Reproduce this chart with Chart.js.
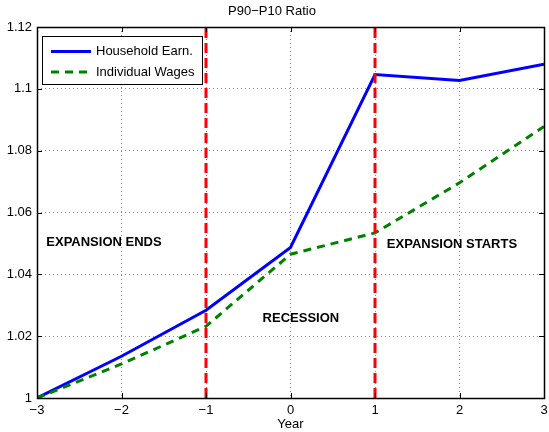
<!DOCTYPE html>
<html>
<head>
<meta charset="utf-8">
<script src="https://cdn.jsdelivr.net/npm/chart.js@4.4.1/dist/chart.umd.min.js"></script>
<style>
  html, body { margin: 0; padding: 0; background: #ffffff; }
  #wrap { width: 549px; height: 432px; }
</style>
</head>
<body>
<div id="wrap"><canvas id="c" width="549" height="432"></canvas></div>
<script>
// Years relative to the recession
const years = [-3, -2, -1, 0, 1, 2, 3];
// P90-P10 ratio, normalised to 1 at year -3
const householdEarn = [1.000, 1.0135, 1.0284, 1.0487, 1.1046, 1.1027, 1.1080];
const individualWages = [1.000, 1.011, 1.0232, 1.0465, 1.0534, 1.0696, 1.0878];
// Recession starts / ends
const recessionBounds = [-1, 1];
// Axis ranges
const xRange = [-3, 3];
const yRange = [1.0, 1.12];
const yStep = 0.02;
// Phase labels: [text, x, y]
const phaseLabels = [
  ['EXPANSION ENDS', -2.89, 1.0502],
  ['RECESSION', -0.33, 1.0259],
  ['EXPANSION STARTS', 1.14, 1.0498]
];
const seriesNames = ['Household Earn.', 'Individual Wages'];

const FONT = "'Liberation Sans', Arial, Helvetica, sans-serif";
const FS = 13;

const toPts = (xs, ys) => xs.map((x, i) => ({ x: x, y: ys[i] }));

const datasets = [
  {
    label: seriesNames[0],
    data: toPts(years, householdEarn),
    borderColor: '#0000ff',
    borderWidth: 3,
    pointRadius: 0,
    tension: 0,
    order: 2
  },
  {
    label: seriesNames[1],
    data: toPts(years, individualWages),
    borderColor: '#008000',
    borderWidth: 3,
    borderDash: [8, 6],
    pointRadius: 0,
    tension: 0,
    order: 1
  }
];
recessionBounds.forEach(xb => {
  datasets.push({
    label: '',
    data: [{ x: xb, y: yRange[0] }, { x: xb, y: yRange[1] }],
    borderColor: '#ff0000',
    borderWidth: 3,
    borderDash: [10, 5],
    pointRadius: 0,
    tension: 0,
    order: 0
  });
});

// Frame, inward tick marks, phase labels and legend box
const decorations = {
  id: 'decorations',
  afterDatasetsDraw(chart) {
    const { ctx, chartArea: a, scales } = chart;
    const xs = scales.x, ys = scales.y;
    ctx.save();

    // phase labels
    ctx.fillStyle = '#000000';
    ctx.font = 'bold ' + FS + 'px ' + FONT;
    ctx.textAlign = 'left';
    ctx.textBaseline = 'middle';
    phaseLabels.forEach(([t, x, y]) => {
      ctx.fillText(t, xs.getPixelForValue(x), ys.getPixelForValue(y));
    });

    // inward tick marks on all four sides
    ctx.strokeStyle = '#000000';
    ctx.lineWidth = 1;
    ctx.setLineDash([]);
    const tl = 5;
    ctx.beginPath();
    xs.ticks.forEach(t => {
      const px = Math.round(xs.getPixelForValue(t.value)) + 0.5;
      ctx.moveTo(px, a.bottom); ctx.lineTo(px, a.bottom - tl);
      ctx.moveTo(px, a.top); ctx.lineTo(px, a.top + tl);
    });
    ys.ticks.forEach(t => {
      const py = Math.round(ys.getPixelForValue(t.value)) + 0.5;
      ctx.moveTo(a.left, py); ctx.lineTo(a.left + tl, py);
      ctx.moveTo(a.right, py); ctx.lineTo(a.right - tl, py);
    });
    ctx.stroke();

    // frame
    ctx.lineWidth = 1.5;
    ctx.strokeRect(Math.round(a.left) + 0.5, Math.round(a.top) + 0.5,
                   Math.round(a.right - a.left), Math.round(a.bottom - a.top));

    // legend box
    const lx = 42.5, ly = 36.5, lw = 160, lh = 48;
    ctx.fillStyle = '#ffffff';
    ctx.fillRect(lx, ly, lw, lh);
    ctx.lineWidth = 1;
    ctx.strokeStyle = '#000000';
    ctx.strokeRect(lx, ly, lw, lh);
    const rows = [
      { ds: chart.data.datasets[0], y: 51.5 },
      { ds: chart.data.datasets[1], y: 72 }
    ];
    rows.forEach(r => {
      ctx.strokeStyle = r.ds.borderColor;
      ctx.lineWidth = 3;
      ctx.setLineDash(r.ds.borderDash || []);
      ctx.beginPath();
      ctx.moveTo(51, r.y); ctx.lineTo(91, r.y);
      ctx.stroke();
      ctx.setLineDash([]);
      ctx.fillStyle = '#000000';
      ctx.font = FS + 'px ' + FONT;
      ctx.textBaseline = 'middle';
      ctx.fillText(r.ds.label, 96, r.y);
    });
    ctx.restore();
  }
};

const minusSign = s => String(s).replace('-', '\u2212');

new Chart(document.getElementById('c'), {
  type: 'line',
  data: { datasets: datasets },
  options: {
    responsive: false,
    animation: false,
    layout: { padding: { left: 0, right: 5, top: 0, bottom: 0 } },
    plugins: {
      legend: { display: false },
      tooltip: { enabled: false },
      title: {
        display: true,
        text: 'P90\u2212P10 Ratio',
        color: '#000000',
        font: { family: FONT, size: FS, weight: 'normal' },
        padding: { top: 4, bottom: 7.4 }
      }
    },
    scales: {
      x: {
        type: 'linear',
        min: xRange[0],
        max: xRange[1],
        afterFit(s) { s.height = 34; s.paddingLeft = 0; s.paddingRight = 0; },
        ticks: {
          stepSize: 1,
          color: '#000000',
          font: { family: FONT, size: FS },
          padding: 5,
          maxRotation: 0,
          callback: v => minusSign(v)
        },
        grid: { color: '#8a8a8a', lineWidth: 1, drawTicks: false },
        border: { display: false, dash: [1, 3] },
        title: {
          display: true,
          text: 'Year',
          color: '#000000',
          font: { family: FONT, size: FS },
          padding: { top: 0, bottom: 0 }
        }
      },
      y: {
        type: 'linear',
        min: yRange[0],
        max: yRange[1],
        afterFit(s) { s.width = 37; s.paddingTop = 0; s.paddingBottom = 0; },
        ticks: {
          stepSize: yStep,
          color: '#000000',
          font: { family: FONT, size: FS },
          padding: 5,
          callback: v => String(+Number(v).toFixed(2))
        },
        grid: { color: '#8a8a8a', lineWidth: 1, drawTicks: false },
        border: { display: false, dash: [1, 3] }
      }
    }
  },
  plugins: [decorations]
});
</script>
</body>
</html>
